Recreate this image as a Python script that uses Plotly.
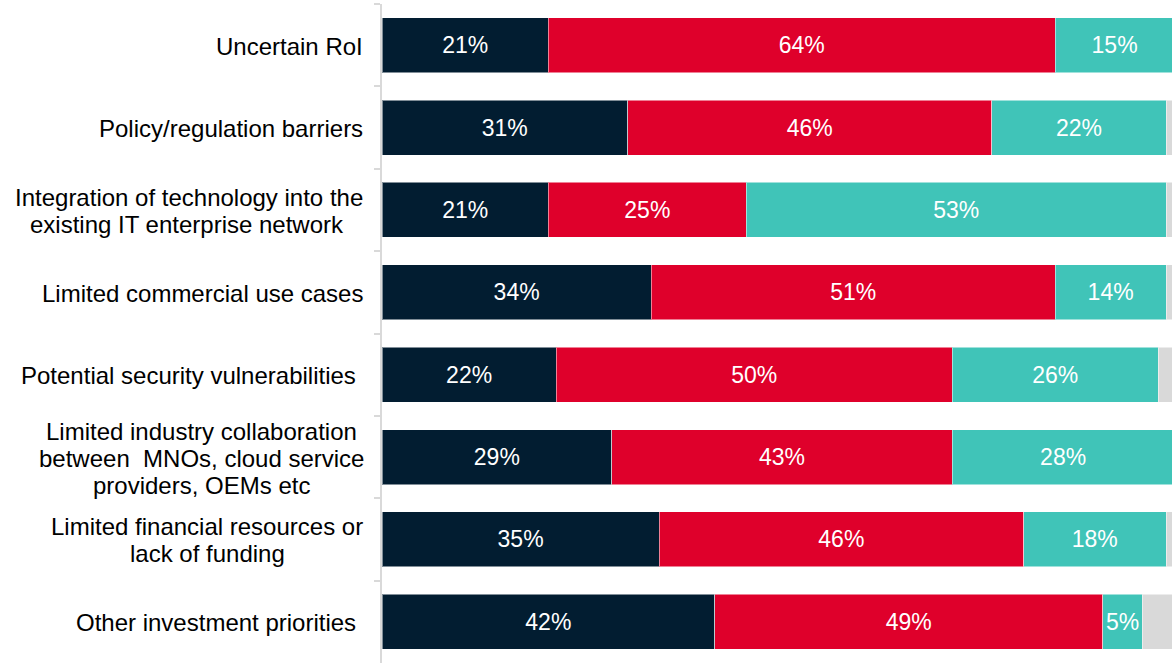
import plotly.graph_objects as go

# categorias (de cima para baixo)
categories = [
    "Uncertain RoI",
    "Policy/regulation barriers",
    "Integration of technology",
    "Limited commercial use cases",
    "Potential security vulnerabilities",
    "Limited industry collaboration",
    "Limited financial resources",
    "Other investment priorities",
]
# rótulos como aparecem no gráfico, linha a linha
category_lines = [
    ["Uncertain RoI"],
    ["Policy/regulation barriers"],
    ["Integration of technology into the", "existing IT enterprise network\u00a0\u00a0\u00a0"],
    ["Limited commercial use cases"],
    ["Potential security vulnerabilities\u00a0"],
    ["Limited industry collaboration", "between \u00a0MNOs, cloud service", "providers, OEMs etc"],
    ["Limited financial resources or", "lack of funding"],
    ["Other investment priorities\u00a0"],
]

series_1 = [21, 31, 21, 34, 22, 29, 35, 42]
series_2 = [64, 46, 25, 51, 50, 43, 46, 49]
series_3 = [15, 22, 53, 14, 26, 28, 18, 5]
series_rest = [0, 1, 1, 1, 2, 0, 1, 4]

NAVY = "#021D31"
RED = "#DF002B"
TEAL = "#40C4B8"
GREY = "#D9D9D9"
FONT = "Liberation Sans, Arial, sans-serif"

fig = go.Figure()

for vals, color, show_text in [
    (series_1, NAVY, True),
    (series_2, RED, True),
    (series_3, TEAL, True),
    (series_rest, GREY, False),
]:
    fig.add_trace(
        go.Bar(
            y=categories,
            x=vals,
            orientation="h",
            marker=dict(color=color, line=dict(color="rgba(255,255,255,0.5)", width=1)),
            text=[f"{v}%" for v in vals] if show_text else None,
            textposition="inside" if show_text else "none",
            insidetextanchor="middle",
            textangle=0,
            textfont=dict(color="white", size=23, family=FONT),
            hoverinfo="skip",
        )
    )

# rótulos das categorias: uma anotação por linha (controle do espaçamento)
LINE_STEP = 27
center_shift = {"Limited industry collaboration": -181, "Limited financial resources": -175}
for cat, lines in zip(categories, category_lines):
    n = len(lines)
    centered = cat in center_shift
    for i, line in enumerate(lines):
        fig.add_annotation(
            x=0, xref="paper",
            xanchor="center" if centered else "right",
            xshift=center_shift[cat] if centered else -17,
            y=cat, yref="y",
            yshift=((n - 1) / 2 - i) * LINE_STEP - 1,
            text=line, showarrow=False,
            font=dict(size=24, color="#000000", family=FONT),
        )

fig.update_layout(
    barmode="stack",
    bargap=0.333,
    showlegend=False,
    width=1172,
    height=663,
    margin=dict(l=382, r=0, t=4, b=0),
    plot_bgcolor="white",
    paper_bgcolor="white",
    uniformtext=dict(minsize=23, mode="show"),
)

fig.update_xaxes(range=[0, 99.75], showgrid=False, zeroline=False,
                 showticklabels=False, showline=False, ticks="")
fig.update_yaxes(
    categoryorder="array", categoryarray=categories, autorange="reversed",
    showgrid=False, zeroline=False, showticklabels=False,
    showline=True, linecolor=GREY, linewidth=2,
    ticks="outside", tickson="boundaries", ticklen=6, tickcolor=GREY, tickwidth=2,
)

# sem margem da página, para o gráfico começar no canto
fig.write_html(
    "out.html",
    config={"displayModeBar": False},
    post_script="document.body.style.margin='0';",
)
